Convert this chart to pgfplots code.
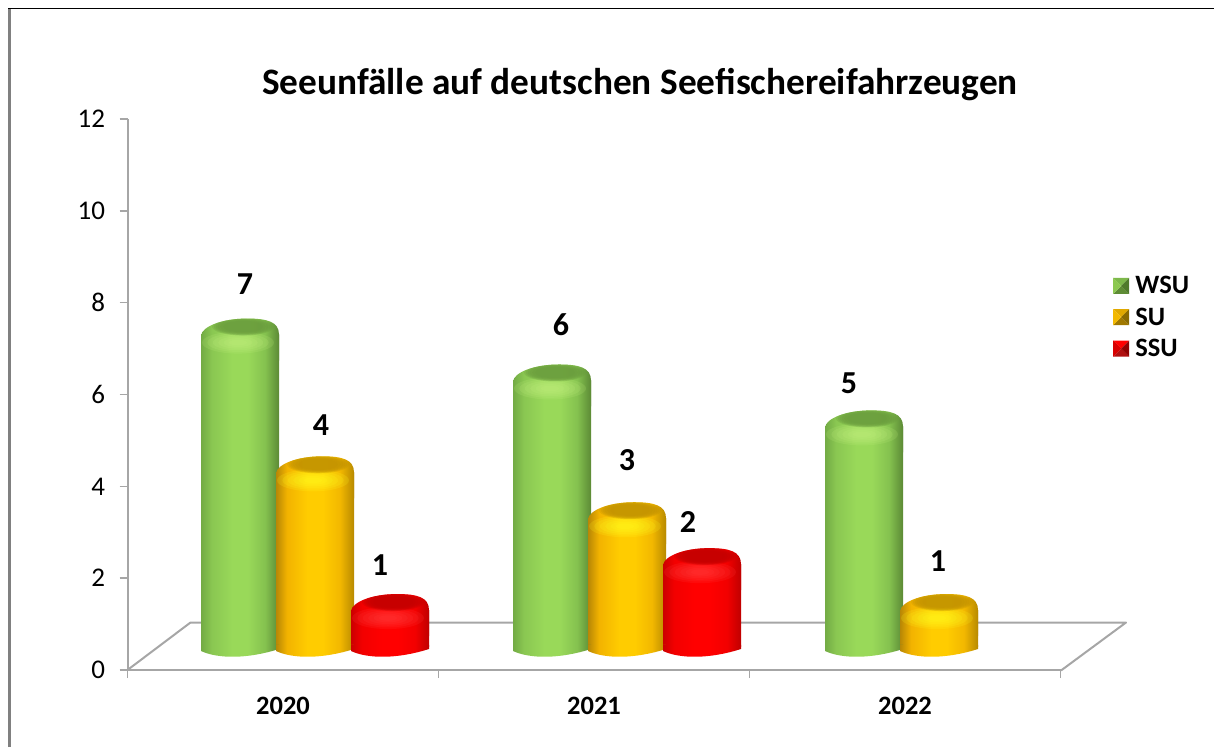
\documentclass[border=0pt]{standalone}
\usepackage{fontspec}
\setmainfont{Carlito}
\usepackage{pgfplots}
\pgfplotsset{compat=1.18}

\definecolor{axisgray}{HTML}{A6A6A6}
\definecolor{framegray}{HTML}{808080}

% body gradients, tikz shows the 25bp to 75bp part across the shape
\pgfdeclarehorizontalshading{cylgreen}{100bp}{
  rgb(0bp)=(0.45,0.67,0.27);rgb(25bp)=(0.45,0.67,0.27);rgb(32bp)=(0.54,0.78,0.32);rgb(45bp)=(0.60,0.85,0.35);
  rgb(55bp)=(0.60,0.85,0.35);rgb(66bp)=(0.52,0.76,0.31);rgb(75bp)=(0.36,0.54,0.21);rgb(100bp)=(0.36,0.54,0.21)}
\pgfdeclarehorizontalshading{cylorange}{100bp}{
  rgb(0bp)=(0.72,0.53,0.02);rgb(25bp)=(0.72,0.53,0.02);rgb(32bp)=(0.95,0.70,0.0);rgb(45bp)=(1,0.80,0.0);
  rgb(55bp)=(1,0.80,0.0);rgb(66bp)=(0.95,0.72,0.0);rgb(75bp)=(0.72,0.54,0.0);rgb(100bp)=(0.72,0.54,0.0)}
\pgfdeclarehorizontalshading{cylred}{100bp}{
  rgb(0bp)=(0.80,0,0);rgb(25bp)=(0.80,0,0);rgb(32bp)=(0.95,0,0);rgb(45bp)=(1,0,0);
  rgb(55bp)=(1,0,0);rgb(66bp)=(0.95,0,0);rgb(75bp)=(0.75,0,0);rgb(100bp)=(0.75,0,0)}

% stacked translucent ellipses: a broad glow and a firmer top face
\newcommand{\glowspot}[5]{%
  \foreach \s in {1,0.85,0.7,0.55,0.4,0.25}{%
    \fill[draw=none,#5,opacity=0.16,rotate around={3:(#1pt,#2pt)}]
      (#1pt,#2pt) ellipse ({\s*#3pt} and {\s*#4pt});}}
\newcommand{\topspot}[5]{%
  \foreach \s in {1,0.94,0.88,0.82,0.74,0.64}{%
    \fill[draw=none,#5,opacity=0.28,rotate around={5:(#1pt,#2pt)}]
      (#1pt,#2pt) ellipse ({\s*#3pt} and {\s*#4pt});}}

% top of a cylinder, origin at the value
\newcommand{\capoutline}{(-39pt,-26pt) -- (-39pt,-1pt)
  .. controls (-38pt,8pt) and (-18pt,16pt) .. (7pt,16pt)
  .. controls (27pt,16pt) and (39pt,13pt) .. (39pt,0pt) -- (39pt,-26pt) -- cycle}
\newcommand{\defcap}[4]{%
  \pgfdeclareplotmark{cap#1}{%
    \shade[draw=none,shading=#2] \capoutline;
    \begin{scope}
      \path[clip,draw=none] \capoutline;
      \glowspot{-2}{-8}{36}{11}{#3}
      \topspot{3}{8}{31}{9}{#4}
    \end{scope}
    \pgfusepath{discard}
  }
  \pgfdeclareplotmark{bot#1}{%
    \shade[draw=none,shading=#2] (-39pt,11pt) -- (-39pt,5pt)
      .. controls (-22pt,-3pt) and (8pt,-3pt) .. (39pt,7pt) -- (39pt,11pt) -- cycle;
    \pgfusepath{discard}
  }
}
\definecolor{glowgreen}{HTML}{C4F080}
\definecolor{topgreen}{HTML}{689A3C}
\definecolor{gloworange}{HTML}{FFFF20}
\definecolor{toporange}{HTML}{BF9000}
\definecolor{glowred}{HTML}{FF4040}
\definecolor{topred}{HTML}{C00000}
\defcap{green}{cylgreen}{glowgreen}{topgreen}
\defcap{orange}{cylorange}{gloworange}{toporange}
\defcap{red}{cylred}{glowred}{topred}

% bevelled legend key: bottom, top, left, right
\newcommand{\legendkey}[4]{%
  \fill[draw=none,fill=#1] (0pt,-8pt) -- (16pt,-8pt) -- (8pt,0pt) -- cycle;
  \fill[draw=none,fill=#2] (0pt,8pt) -- (16pt,8pt) -- (8pt,0pt) -- cycle;
  \fill[draw=none,fill=#3] (0pt,-8pt) -- (0pt,8pt) -- (8pt,0pt) -- cycle;
  \fill[draw=none,fill=#4] (16pt,-8pt) -- (16pt,8pt) -- (8pt,0pt) -- cycle;
  \path (20pt,0pt);
}
\definecolor{kga}{HTML}{5E8C35}\definecolor{kgb}{HTML}{7DB84B}\definecolor{kgc}{HTML}{8CC850}\definecolor{kgd}{HTML}{4F7A2C}
\definecolor{koa}{HTML}{A07800}\definecolor{kob}{HTML}{E0A800}\definecolor{koc}{HTML}{F2B800}\definecolor{kod}{HTML}{8A6A00}
\definecolor{kra}{HTML}{B01010}\definecolor{krb}{HTML}{FF0000}\definecolor{krc}{HTML}{D80000}\definecolor{krd}{HTML}{900000}

\tikzset{vallabel/.style={font=\fontsize{32}{38}\selectfont\bfseries}}
\pgfplotsset{cylbar/.style={ybar,bar width=78pt,draw=none,shade,shading=#1,forget plot}}

\begin{document}
\begin{tikzpicture}[x=1pt,y=1pt]
\useasboundingbox (0,0) rectangle (1214,747);

% chart frame, cut by the picture edge
\draw[framegray,line width=3pt] (9,0) -- (9,738.5);
\draw[black,line width=1.5pt] (8,738.5) -- (1214,738.5);

\node[font=\fontsize{37.3}{44}\selectfont\bfseries] at (640,662) {Seeunfälle auf deutschen Seefischereifahrzeugen};

% back floor
\draw[axisgray,line width=2pt,line join=round] (127.5,77) -- (190.5,124.5) -- (1126,124.5) -- (1061,76.5);

\begin{axis}[
    at={(127.5pt,77pt)}, anchor=south west,
    scale only axis, width=933pt, height=551pt,
    xmin=-0.5, xmax=2.5, ymin=0, ymax=12,
    axis lines=left,
    axis line style={-,axisgray,line width=2pt},
    xtick={0,1,2}, xticklabels={2020,2021,2022},
    minor xtick={-0.5,0.5,1.5,2.5},
    ytick={0,2,4,6,8,10,12},
    major tick length=8pt, minor tick length=8pt,
    tick align=outside,
    major x tick style={draw=none},
    minor x tick style={axisgray,line width=1.5pt},
    major y tick style={axisgray,line width=1.5pt},
    xticklabel style={font=\fontsize{26.5}{30}\selectfont\bfseries,yshift=-16pt},
    yticklabel style={font=\fontsize{27}{30}\selectfont,xshift=-11pt},
    /pgf/number format/assume math mode=true,
]
\addplot[draw=none] coordinates {(0,0)};
\end{axis}

% cylinders, sitting on the floor behind the front edge
\begin{axis}[
    at={(159pt,100.2pt)}, anchor=south west,
    scale only axis, width=936pt, height=551pt,
    xmin=-0.5, xmax=2.5, ymin=0.2, ymax=12.2,
    hide axis, clip=false,
    legend style={draw=none,fill=none,at={(951pt,383.8pt)},anchor=north west,
      font=\fontsize{26.5}{30}\selectfont\bfseries,row sep=8.5pt},
    legend cell align=left,
]
% green
\addplot[cylbar=cylgreen,bar shift=-75pt] coordinates {(0,7)};
\addplot[cylbar=cylgreen,bar shift=-75pt] coordinates {(1,6)};
\addplot[cylbar=cylgreen,bar shift=-75pt] coordinates {(2,5)};
\addplot[only marks,mark=botgreen,xshift=-75pt,forget plot] coordinates {(0,0)(1,0)(2,0)};
\addplot[only marks,mark=capgreen,xshift=-75pt,forget plot] coordinates {(0,7)(1,6)(2,5)};
% orange
\addplot[cylbar=cylorange,bar shift=0pt] coordinates {(0,4)};
\addplot[cylbar=cylorange,bar shift=0pt] coordinates {(1,3)};
\addplot[cylbar=cylorange,bar shift=0pt] coordinates {(2,1)};
\addplot[only marks,mark=botorange,forget plot] coordinates {(0,0)(1,0)(2,0)};
\addplot[only marks,mark=caporange,forget plot] coordinates {(0,4)(1,3)(2,1)};
% red
\addplot[cylbar=cylred,bar shift=75pt] coordinates {(0,1)};
\addplot[cylbar=cylred,bar shift=75pt] coordinates {(1,2)};
\addplot[only marks,mark=botred,xshift=75pt,forget plot] coordinates {(0,0)(1,0)};
\addplot[only marks,mark=capred,xshift=75pt,forget plot] coordinates {(0,1)(1,2)};

\addlegendimage{legend image code/.code={\legendkey{kga}{kgb}{kgc}{kgd}}}
\addlegendentry{WSU}
\addlegendimage{legend image code/.code={\legendkey{koa}{kob}{koc}{kod}}}
\addlegendentry{SU}
\addlegendimage{legend image code/.code={\legendkey{kra}{krb}{krc}{krd}}}
\addlegendentry{SSU}

\node[vallabel] at (axis cs:0,7) [xshift=-70pt,yshift=50pt] {7};
\node[vallabel] at (axis cs:0,4) [xshift=6pt,yshift=47pt] {4};
\node[vallabel] at (axis cs:0,1) [xshift=65pt,yshift=45pt] {1};
\node[vallabel] at (axis cs:1,6) [xshift=-66pt,yshift=56pt] {6};
\node[vallabel] at (axis cs:1,3) [yshift=58pt] {3};
\node[vallabel] at (axis cs:1,2) [xshift=61pt,yshift=42pt] {2};
\node[vallabel] at (axis cs:2,5) [xshift=-90pt,yshift=43pt] {5};
\node[vallabel] at (axis cs:2,1) [xshift=-1pt,yshift=49pt] {1};
\end{axis}
\end{tikzpicture}
\end{document}
